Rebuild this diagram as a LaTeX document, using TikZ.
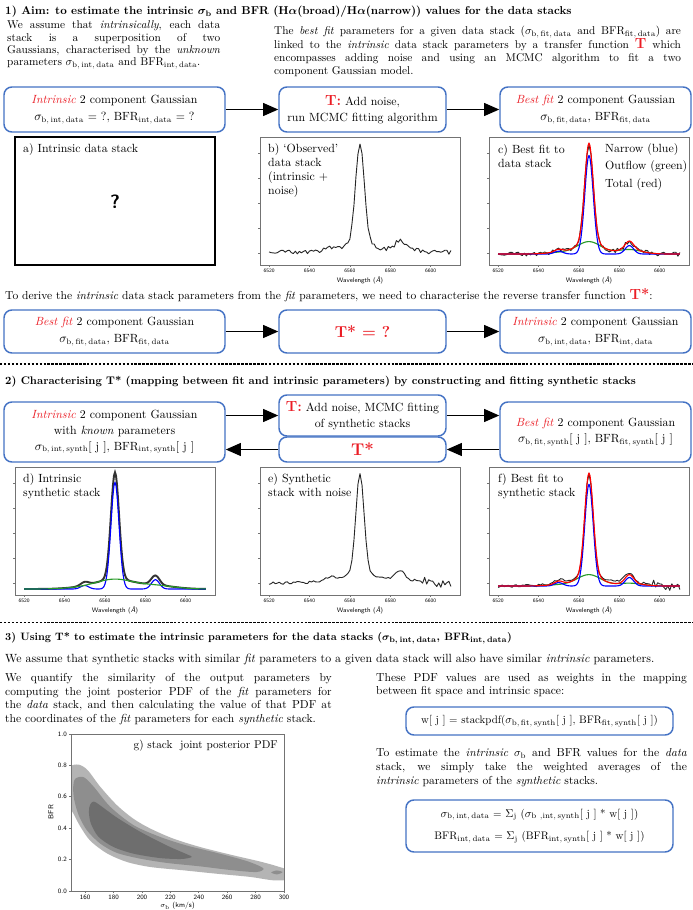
\documentclass[tikz,border=0pt]{standalone}
\usepackage{amsmath}
\usetikzlibrary{positioning,arrows.meta,calc}

\definecolor{tred}{RGB}{235,28,36}
\definecolor{boxblue}{RGB}{68,114,196}
\definecolor{fitgreen}{RGB}{40,155,40}
\definecolor{pdflight}{RGB}{180,180,180}
\definecolor{pdfmid}{RGB}{142,142,142}
\definecolor{pdfdark}{RGB}{110,110,110}

\tikzset{
  bluebox/.style={draw=boxblue, line width=1.3pt, rounded corners=7pt, align=center, inner sep=2pt, font=\fontsize{10.5}{14.5}\selectfont},
  boxw/.style={minimum width=#1*0.885pt},
  boxh/.style={minimum height=#1*0.885pt},
  bigarrow/.style={line width=1.3pt, -{Triangle[length=13.5pt,width=11.5pt]}},
  para/.style={anchor=north west, inner sep=0pt, align=justify, font=\fontsize{10}{11}\selectfont},
  textline/.style={anchor=west, inner sep=0pt, font=\fontsize{10.2}{12}\selectfont},
  sectitle/.style={anchor=west, inner sep=0pt, font=\fontsize{10}{12}\selectfont\bfseries\boldmath},
  sepline/.style={line width=0.9pt, dash pattern=on 2.2pt off 1.3pt},
  plotframe/.style={draw=black!55, line width=0.6pt},
  ticklab/.style={inner sep=0pt, font=\fontsize{4.6}{5}\selectfont\sffamily},
  gticklab/.style={inner sep=0pt, font=\fontsize{5.8}{6}\selectfont\sffamily},
  axlab/.style={inner sep=0pt, font=\fontsize{5.8}{6}\selectfont\sffamily},
  plotlab/.style={anchor=north west, align=left, inner sep=0pt, font=\fontsize{10.5}{12.5}\selectfont},
  datline/.style={line width=0.8pt, black!85, line join=round},
  fitline/.style={line width=1pt, line join=round},
}

\newcommand{\redit}[1]{\textcolor{tred}{\textit{#1}}}
\newcommand{\bigT}[1]{\textcolor{tred}{\bfseries\fontsize{13}{13}\selectfont #1}}
\newcommand{\sgm}[1]{$\sigma_{\mathrm{#1}}$}
\newcommand{\bfrs}[1]{BFR$_{\mathrm{#1}}$}

% frame, ticks and labels of one spectrum panel (left x, top y)
\newcommand{\wavaxes}[2]{%
  \draw[plotframe] (#1,#2) rectangle ++(200,128);
  \foreach \ti/\lam in {0/6520,1/6540,2/6560,3/6580,4/6600}{
    \pgfmathsetmacro{\tx}{#1+(4.5+20*\ti)*2.0202}
    \draw[plotframe] (\tx,#2+128) -- ++(0,2);
    \node[ticklab] (tk#1-#2-\ti) at (\tx,#2+134) {\lam};}
  \foreach \ti in {0,1,2,3,4}
    \draw[plotframe] (#1,#2+116-25*\ti) -- ++(-2,0);
  \node[axlab] (wl#1-#2) at (#1+100,#2+143) {Wavelength (\textit{\AA})};
}

\begin{document}
\begin{tikzpicture}[x=0.885pt, y=-0.885pt,
  declare function={
    gs(\lx,\lc,\lw)=exp(-min(((\lx-\lc)*(\lx-\lc))/(2*\lw*\lw),20));
    nar(\lx)=0.88*gs(\lx,49.5,2.1)+0.075*gs(\lx,69.5,2.1)+0.025*gs(\lx,34.5,2.1);
    brd(\lx)=0.11*gs(\lx,49.5,6)+0.04*gs(\lx,69.5,6)+0.013*gs(\lx,34.5,6);
    nars(\lx)=0.92*gs(\lx,49.5,2)+0.08*gs(\lx,69.5,2)+0.03*gs(\lx,34.5,2);
    brds(\lx)=0.08*gs(\lx,49.5,9)+0.03*gs(\lx,69.5,9)+0.012*gs(\lx,34.5,9);
    narf(\lx)=0.9*gs(\lx,49.5,2.1)+0.075*gs(\lx,69.5,2.1)+0.03*gs(\lx,34.5,2.1);
    brdf(\lx)=0.1*gs(\lx,49.5,6)+0.025*gs(\lx,69.5,6)+0.01*gs(\lx,34.5,6);
  }]
\useasboundingbox (0,0) rectangle (693,910);
\fill[white] (0,0) rectangle (693,910);

% ---- 1) aim
\node[sectitle, font=\fontsize{10.1}{12}\selectfont\bfseries\boldmath] (title1) at (5,12) {1) Aim: to estimate the intrinsic \sgm{b} and BFR (H$\alpha$(broad)/H$\alpha$(narrow)) values for the data stacks};
\node[para, text width=188.5pt] (assume1) at (7,20.5) {We assume that \textit{intrinsically}, each data\linebreak stack is a superposition of two\linebreak Gaussians, characterised by the \textit{unknown}\linebreak parameters \sgm{b,\,int,\,data} and \bfrs{int,\,data}.};
\node[para, text width=360pt, font=\fontsize{10}{11.8}\selectfont] (linked1) at (274,26) {The \textit{best fit} parameters for a given data stack (\sgm{b,\,fit,\,data} and \bfrs{fit,\,data}) are\linebreak linked to the \textit{intrinsic} data stack parameters by a transfer function \bigT{T} which\linebreak encompasses adding noise and using an MCMC algorithm to fit a two\linebreak component Gaussian model.};

\node[bluebox, boxw=221, boxh=45] (intr1) at (114.5,109.5) {\redit{Intrinsic} 2 component Gaussian\\ \sgm{b,\,int,\,data} = ?, \bfrs{int,\,data} = ?};
\node[bluebox, boxw=167, boxh=45] (tfun1) at (362.5,109.5) {\bigT{T:} Add noise,\\ run MCMC fitting algorithm};
\node[bluebox, boxw=191, boxh=45] (best1) at (595.5,109.5) {\redit{Best fit} 2 component Gaussian\\ \sgm{b,\,fit,\,data}, \bfrs{fit,\,data}};
\draw[bigarrow] (intr1) -- (tfun1);
\draw[bigarrow] (tfun1) -- (best1);

% a) intrinsic data stack
\draw[line width=1.4pt] (15,137) rectangle (215,265);
\node[plotlab] (alab) at (23,143) {a) Intrinsic data stack};
\node[font=\sffamily\bfseries\fontsize{17}{17}\selectfont] (qmark) at (115,202) {?};

% b) observed data stack
\wavaxes{260}{137}
\begin{scope}[shift={(260,252)}, xscale=2.0202, yscale=-111]
  \pgfmathsetseed{11}
  \draw[datline] plot[domain=4.5:94.5, samples=91] (\x,{nar(\x)+brd(\x)+0.02*rand});
\end{scope}
\node[plotlab] (blab) at (268,143) {b) `Observed'\\ data stack\\ (intrinsic +\\ noise)};

% c) best fit to data stack
\wavaxes{489}{137}
\begin{scope}[shift={(489,254)}, xscale=2.0202, yscale=-112]
  \pgfmathsetseed{11}
  \draw[datline] plot[domain=4.5:94.5, samples=91] (\x,{nar(\x)+brd(\x)+0.02*rand});
  \draw[fitline, fitgreen] plot[domain=4.5:94.5, samples=181] (\x,{brd(\x)});
  \draw[fitline, blue] plot[domain=4.5:94.5, samples=181] (\x,{nar(\x)});
  \draw[fitline, red] plot[domain=4.5:94.5, samples=181] (\x,{nar(\x)+brd(\x)});
\end{scope}
\node[plotlab] (clab) at (498,144) {c) Best fit to\\ data stack};
\node[plotlab, font=\fontsize{10.5}{15.5}\selectfont] (legend) at (605,143) {Narrow (blue)\\ Outflow (green)\\ Total (red)};

\node[textline] (derive) at (5,295) {To derive the \textit{intrinsic} data stack parameters from the \textit{fit} parameters, we need to characterise the reverse transfer function \bigT{T*}:};

\node[bluebox, boxw=221, boxh=43] (best2) at (114.5,331.5) {\redit{Best fit} 2 component Gaussian\\ \sgm{b,\,fit,\,data}, \bfrs{fit,\,data}};
\node[bluebox, boxw=167, boxh=43] (tinv2) at (362.5,331.5) {\textcolor{tred}{\bfseries\fontsize{14}{14}\selectfont T* = ?}};
\node[bluebox, boxw=191, boxh=43] (intr2) at (595.5,331.5) {\redit{Intrinsic} 2 component Gaussian\\ \sgm{b,\,int,\,data}, \bfrs{int,\,data}};
\draw[bigarrow] (best2) -- (tinv2);
\draw[bigarrow] (tinv2) -- (intr2);

\draw[sepline] (0,364) -- (693,364);

% ---- 2) characterising T*
\node[sectitle, font=\fontsize{9.8}{12}\selectfont\bfseries\boldmath] (title2) at (5,382) {2) Characterising T* (mapping between fit and intrinsic parameters) by constructing and fitting synthetic stacks};
\node[bluebox, boxw=221, boxh=60, font=\fontsize{10.5}{13.8}\selectfont] (intr3) at (114.5,432) {\redit{Intrinsic} 2 component Gaussian\\ with \textit{known} parameters\\ \sgm{b,\,int,\,synth}[ j ], \bfrs{int,\,synth}[ j ]};
\node[bluebox, boxw=167, boxh=41, font=\fontsize{10.5}{13.8}\selectfont] (tfun3) at (362.5,415.5) {\bigT{T:} Add noise, MCMC fitting\\ of synthetic stacks};
\node[bluebox, boxw=167, boxh=25] (tinv3) at (362.5,449.5) {\textcolor{tred}{\bfseries\fontsize{15}{15}\selectfont T*}};
\node[bluebox, boxw=191, boxh=60] (best3) at (595.5,432) {\redit{Best fit} 2 component Gaussian\\ \sgm{b,\,fit,\,synth}[ j ], \bfrs{fit,\,synth}[ j ]};
\draw[bigarrow] (intr3.east |- tfun3.west) -- (tfun3.west);
\draw[bigarrow] (tfun3.east) -- (best3.west |- tfun3.east);
\draw[bigarrow] (best3.west |- tinv3.east) -- (tinv3.east);
\draw[bigarrow] (tinv3.west) -- (intr3.east |- tinv3.west);

% d) intrinsic synthetic stack
\wavaxes{15}{467}
\begin{scope}[shift={(15,589)}, xscale=2.0202, yscale=-116]
  \draw[line width=1.7pt, black!80] plot[domain=4.5:94.5, samples=181] (\x,{nars(\x)+brds(\x)});
  \draw[fitline, blue] plot[domain=4.5:94.5, samples=181] (\x,{nars(\x)});
  \draw[fitline, fitgreen] plot[domain=4.5:94.5, samples=181] (\x,{brds(\x)});
\end{scope}
\node[plotlab] (dlab) at (23,473) {d) Intrinsic\\ synthetic stack};

% e) synthetic stack with noise
\wavaxes{260}{467}
\begin{scope}[shift={(260,583)}, xscale=2.0202, yscale=-110]
  \pgfmathsetseed{23}
  \draw[datline] plot[domain=4.5:94.5, samples=91] (\x,{nars(\x)+brds(\x)+0.012*rand+0.035*rand*(\x>80)});
\end{scope}
\node[plotlab] (elab) at (268,473) {e) Synthetic\\ stack with noise};

% f) best fit to synthetic stack
\wavaxes{489}{467}
\begin{scope}[shift={(489,586)}, xscale=2.0202, yscale=-113]
  \pgfmathsetseed{23}
  \draw[datline] plot[domain=4.5:94.5, samples=91] (\x,{nars(\x)+brds(\x)+0.012*rand+0.035*rand*(\x>80)});
  \draw[fitline, fitgreen] plot[domain=4.5:94.5, samples=181] (\x,{brdf(\x)});
  \draw[fitline, blue] plot[domain=4.5:94.5, samples=181] (\x,{narf(\x)});
  \draw[fitline, red] plot[domain=4.5:94.5, samples=181] (\x,{narf(\x)+brdf(\x)});
\end{scope}
\node[plotlab] (flab) at (498,473) {f) Best fit to\\ synthetic stack};

\draw[sepline] (0,622) -- (693,622);

% ---- 3) using T*
\node[sectitle, font=\fontsize{9.5}{12}\selectfont\bfseries\boldmath] (title3) at (5,638) {3) Using T* to estimate the intrinsic parameters for the data stacks (\sgm{b,\,int,\,data}, \bfrs{int,\,data})};
\node[textline, font=\fontsize{10.5}{12}\selectfont] (assume3) at (5,660) {We assume that synthetic stacks with similar \textit{fit} parameters to a given data stack will also have similar \textit{intrinsic} parameters.};
\node[para, text width=289pt, font=\fontsize{10.25}{12.1}\selectfont] (quantify) at (5,673) {We quantify the similarity of the output parameters by\linebreak computing the joint posterior PDF of the \textit{fit} parameters for\linebreak the \textit{data} stack, and then calculating the value of that PDF at\linebreak the coordinates of the \textit{fit} parameters for each \textit{synthetic} stack.};
\node[para, text width=275pt, font=\fontsize{10.25}{12.1}\selectfont] (weights) at (376,673) {These PDF values are used as weights in the mapping\linebreak between fit space and intrinsic space:};
\node[bluebox, boxw=267, boxh=28, font=\fontsize{9.6}{12}\selectfont] (wbox) at (539.5,721) {w[ j ] = stackpdf(\sgm{b,\,fit,\,synth}[ j ], \bfrs{fit,\,synth}[ j ])};
\node[para, text width=275pt, font=\fontsize{10.25}{12.6}\selectfont] (average) at (376,748) {To estimate the \textit{intrinsic} \sgm{b} and BFR values for the \textit{data}\linebreak stack, we simply take the weighted averages of the\linebreak \textit{intrinsic} parameters of the \textit{synthetic} stacks.};
\node[bluebox, boxw=267, boxh=52, font=\fontsize{9.7}{12}\selectfont] (fbox) at (539.5,826) {\sgm{b,\,int,\,data} = $\Sigma_{\mathrm{j}}$ (\sgm{b\ ,int,\,synth}[ j ] * w[ j ])\\[8pt] \bfrs{int,\,data} = $\Sigma_{\mathrm{j}}$ (\bfrs{int,\,synth}[ j ] * w[ j ])};

% g) joint posterior PDF
\begin{scope}[shift={(71,891)}, xscale=1.42, yscale=-157]
  \clip (0,0) rectangle (150,1);
  \fill[pdflight] plot[smooth cycle] coordinates {(-3,0.70) (-1,0.79) (5.4,0.805) (11.7,0.77) (20.6,0.664) (32.3,0.547) (44,0.46) (55.8,0.398) (72,0.334) (91,0.28) (114,0.228) (133,0.188) (145,0.158) (153,0.13) (153,0.075) (142.6,0.068) (126,0.09) (102.6,0.11) (79,0.132) (55.8,0.153) (39.4,0.185) (25.3,0.24) (13.6,0.32) (6.6,0.41) (1.9,0.49) (-2,0.56)};
  \fill[pdfmid] plot[smooth cycle] coordinates {(1.5,0.66) (3,0.715) (8.9,0.725) (16,0.664) (27.7,0.536) (44,0.42) (62.6,0.345) (81.4,0.29) (102.6,0.243) (123.7,0.191) (135.4,0.145) (130.7,0.121) (114,0.132) (91,0.157) (67.5,0.179) (48.8,0.206) (32.3,0.243) (20.6,0.302) (11.2,0.387) (5.4,0.483) (2.3,0.58)};
  \fill[pdfdark] plot[smooth cycle] coordinates {(13.5,0.55) (16,0.57) (20.6,0.545) (32.3,0.468) (48.8,0.377) (67.5,0.29) (81.6,0.234) (85,0.217) (78,0.204) (62.6,0.21) (44,0.238) (30,0.28) (19.4,0.345) (14,0.43) (12.6,0.505)};
  \fill[pdfmid] plot[smooth cycle] coordinates {(141,0.118) (145,0.131) (149,0.12) (145,0.106)};
\end{scope}
\draw[plotframe] (71,734) rectangle (284,891);
\foreach \gi/\lab in {0/0.0,1/0.2,2/0.4,3/0.6,4/0.8,5/1.0}{
  \draw[plotframe] (71,891-31.4*\gi) -- ++(-2,0);
  \node[gticklab, anchor=east] (gy\gi) at (67,891-31.4*\gi) {\lab};}
\foreach \gi/\lab in {0/160,1/180,2/200,3/220,4/240,5/260,6/280,7/300}{
  \draw[plotframe] (71+14.2+28.4*\gi,891) -- ++(0,2);
  \node[gticklab, anchor=north] (gx\gi) at (71+14.2+28.4*\gi,895) {\lab};}
\node[axlab, rotate=90, font=\fontsize{6.3}{7}\selectfont\sffamily] (bfrlab) at (51,812) {BFR};
\node[axlab, font=\fontsize{6.3}{7}\selectfont\sffamily] (siglab) at (177.5,906) {$\sigma_{\mathrm{b}}$ (km/s)};
\node[anchor=east, inner sep=0pt, font=\fontsize{10}{12}\selectfont] (glab) at (278,746) {g) stack\ \ joint posterior PDF};
\end{tikzpicture}
\end{document}
